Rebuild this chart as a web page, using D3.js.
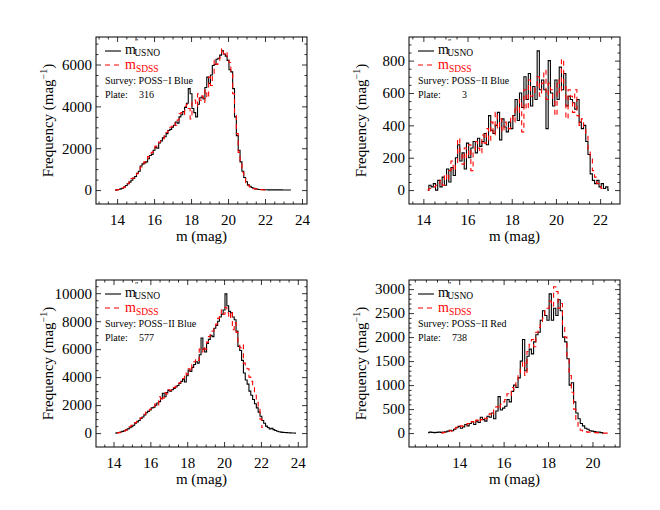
<!DOCTYPE html>
<html>
<head>
<meta charset="utf-8">
<script src="https://cdn.jsdelivr.net/npm/d3@7"></script>
<style>
  body { margin: 0; background: #fff; }
  svg, svg text, .axis { font-family: "Liberation Serif", "DejaVu Serif", serif; }
  .axis path { display: none; }
  .axis line { stroke: #000; stroke-width: 0.8; }
  .axis text { font-size: 15px; fill: #000; }
</style>
</head>
<body>
<svg id="svg" width="660" height="510"></svg>
<script>
// DATA //

// Histogram bin width (mag)
const binWidth = 0.1;

// Panel 1: POSS-I Blue, plate 316
const p1UsnoStart = 13.9;
const p1Usno = [0,10,30,60,90,150,220,300,380,470,
  560,650,800,900,1150,1250,1300,1350,1500,1650,
  1700,1900,2050,2000,2250,2350,2500,2550,2700,2850,
  2900,3000,3100,3250,3200,3500,3600,3750,3950,4150,
  4850,4600,3900,3700,3500,4100,4400,4450,4350,4900,
  5400,5100,5500,5950,6000,6250,6300,6450,6650,6500,
  6400,6200,5750,5650,4850,3500,2600,1900,1350,900,
  600,400,250,180,120,80,60,40,30,25,
  20,15,15,12,12,10,10,10,8,8,8,6,6,5,5,5];
const p1SdssStart = 13.9;
const p1Sdss = [0,10,25,50,100,140,230,300,420,550,
  580,700,780,950,1100,1200,1350,1450,1600,1750,
  1800,1950,2100,2200,2300,2400,2450,2600,2750,2900,
  3000,3050,3200,3100,3350,3650,3700,3600,4000,4100,
  3900,3400,4200,4300,4000,4600,4300,4500,4200,4800,
  4400,5400,5000,5500,6200,6000,6100,6350,6750,6500,
  6600,6300,6100,5600,4600,3700,2700,1800,1300,850,
  550,350,230,150,100,70,50,60,30,20,
  15,10,5];

// Panel 2: POSS-II Blue, plate 3
const p2UsnoStart = 14.2;
const p2Usno = [0,30,20,40,0,60,20,80,30,130,50,140,
  90,200,280,180,230,130,290,200,260,300,
  230,320,270,300,350,280,460,370,350,400,
  480,310,440,390,360,420,380,460,560,430,
  600,510,700,560,720,520,640,560,860,620,
  680,620,380,800,600,520,680,560,760,620,
  720,520,580,560,540,500,560,420,380,400,
  300,220,100,60,40,60,20,40,10,20,
  0];
const p2SdssStart = 14.2;
const p2Sdss = [0,10,10,20,30,40,60,30,100,60,120,180,
  120,160,320,220,160,260,200,280,120,240,
  300,260,230,340,290,380,300,420,340,480,
  380,440,360,420,400,380,460,420,520,480,
  560,360,620,500,680,580,600,640,700,580,
  660,740,560,660,620,560,460,680,600,810,
  640,440,620,580,480,620,460,400,440,380,
  340,240,200,120,80,40,20,10];

// Panel 3: POSS-II Blue, plate 577
const p3UsnoStart = 14.1;
const p3Usno = [0,20,40,80,120,170,230,300,380,450,
  560,700,800,900,1050,1150,1300,1450,1550,1650,
  1800,1850,2000,2150,2250,2450,2850,2600,2900,3050,
  3000,3100,3200,3300,3400,3550,3700,3850,3650,4100,
  4500,4400,4700,4900,5100,5000,5600,6800,6000,5800,
  6400,6700,7000,6900,7500,7700,8000,8300,8500,8800,
  9950,9100,8700,8600,8300,8100,7300,6200,5900,5200,
  4300,3800,3500,3000,2700,2400,2100,1800,1500,1200,
  900,700,500,400,300,350,250,180,130,100,
  70,50,40,30,20,15,10,5,0];
const p3SdssStart = 14.2;
const p3Sdss = [0,30,60,100,150,220,350,450,550,700,
  750,850,950,1100,1250,1350,1500,1600,1700,1800,
  1900,2100,2000,2600,2300,2500,2900,2800,3100,3050,
  3150,3250,3350,3450,3600,3750,3900,4300,4200,4600,
  4400,4900,5100,5300,5200,6000,5800,6200,6000,6500,
  6900,7100,7300,7600,7800,8200,8500,8800,8500,9000,
  8600,8200,8700,7400,7900,7200,6500,6100,6300,5000,
  4800,4600,4000,3700,3300,2700,2200,1700,1000,400];

// Panel 4: POSS-II Red, plate 738
const p4UsnoStart = 12.6;
const p4Usno = [10,20,15,10,15,20,15,20,25,40,
  60,50,80,110,140,100,130,180,150,200,
  230,180,250,220,330,280,250,350,330,420,
  300,460,760,480,520,560,700,650,870,1000,
  950,1150,1500,1950,1300,1600,1750,1650,1900,2050,
  2100,2350,2550,2450,2350,2900,2350,2600,2450,2780,
  2550,2000,1900,1550,1000,1050,650,420,300,200,
  150,100,80,50,40,30,20,20,10,0];
const p4SdssStart = 13.2;
const p4Sdss = [0,10,20,30,50,40,90,120,110,150,
  140,160,200,180,240,200,270,230,280,330,
  300,370,400,360,480,550,500,600,650,700,
  820,780,950,900,1050,1200,1350,1500,1200,1700,
  1850,1950,1800,2100,2200,2300,2400,2550,2600,2750,
  2650,3050,2950,2600,2700,2200,2000,1600,1200,850,
  500,250,120,60,40,30,20,20,15,10,
  10,5,5,0,0,0,0];

// Labels
const surveys = ["POSS\u2212I Blue", "POSS\u2212II Blue", "POSS\u2212II Blue", "POSS\u2212II Red"];
const plates = ["316", "3", "577", "738"];

// Axis ticks
const xTicks = [[14,16,18,20,22,24],[14,16,18,20,22],[14,16,18,20,22,24],[14,16,18,20]];
const yTicks = [[0,2000,4000,6000],[0,200,400,600,800],[0,2000,4000,6000,8000,10000],[0,500,1000,1500,2000,2500,3000]];
const yMinorStep = [500, 50, 500, 100];

// LAYOUT //
const svg = d3.select("#svg");
const panelW = 211, panelH = 167;
const panelPos = [[96,37],[409,37],[96,280],[409,280]];
const xDomains = [[12.86,24.27],[13.35,22.9],[13.05,24.5],[11.74,21.24]];

const panels = [
  {usno: p1Usno, usnoStart: p1UsnoStart, sdss: p1Sdss, sdssStart: p1SdssStart},
  {usno: p2Usno, usnoStart: p2UsnoStart, sdss: p2Sdss, sdssStart: p2SdssStart},
  {usno: p3Usno, usnoStart: p3UsnoStart, sdss: p3Sdss, sdssStart: p3SdssStart},
  {usno: p4Usno, usnoStart: p4UsnoStart, sdss: p4Sdss, sdssStart: p4SdssStart}
];

const serif = "'Liberation Serif', 'DejaVu Serif', serif";

// Turn a value list into [mag, freq] points (bin centres)
let toPoints = (vals, start) => vals.map((v, i) => [start + i * binWidth, v]);

panels.forEach((p, k) => {
  const [left, top] = panelPos[k];
  const g = svg.append("g").attr("transform", `translate(${left},${top})`);

  const yMax = d3.max(p.usno);
  const x = d3.scaleLinear().domain(xDomains[k]).range([0, panelW]);
  const y = d3.scaleLinear().domain([-0.1 * yMax, 1.1 * yMax]).range([panelH, 0]);

  const xMinor = d3.range(Math.ceil(xDomains[k][0] * 2) / 2, xDomains[k][1], 0.5)
    .filter(v => !xTicks[k].includes(v));
  const yMinor = d3.range(0, 1.1 * yMax, yMinorStep[k])
    .filter(v => !yTicks[k].includes(v));

  // Axes: ticks point inward on all four sides
  const axes = [
    [d3.axisBottom(x).tickValues(xTicks[k]).tickSize(-5).tickPadding(10).tickFormat(d3.format("d")), 0, panelH],
    [d3.axisBottom(x).tickValues(xMinor).tickSize(-2.5).tickFormat(""), 0, panelH],
    [d3.axisTop(x).tickValues(xTicks[k]).tickSize(-5).tickFormat(""), 0, 0],
    [d3.axisTop(x).tickValues(xMinor).tickSize(-2.5).tickFormat(""), 0, 0],
    [d3.axisLeft(y).tickValues(yTicks[k]).tickSize(-5).tickPadding(4).tickFormat(d3.format("d")), 0, 0],
    [d3.axisLeft(y).tickValues(yMinor).tickSize(-2.5).tickFormat(""), 0, 0],
    [d3.axisRight(y).tickValues(yTicks[k]).tickSize(-5).tickFormat(""), panelW, 0],
    [d3.axisRight(y).tickValues(yMinor).tickSize(-2.5).tickFormat(""), panelW, 0]
  ];
  axes.forEach(([ax, tx, ty]) => {
    g.append("g").attr("class", "axis")
      .attr("transform", `translate(${tx},${ty})`)
      .call(ax)
      .attr("font-family", serif)
      .attr("font-size", 15);
  });

  // Frame
  g.append("rect")
    .attr("width", panelW).attr("height", panelH)
    .attr("fill", "none").attr("stroke", "#000").attr("stroke-width", 1);

  // Histogram step lines
  const line = d3.line().x(d => x(d[0])).y(d => y(d[1])).curve(d3.curveStep);
  g.append("path")
    .attr("d", line(toPoints(p.usno, p.usnoStart)))
    .attr("fill", "none").attr("stroke", "#000").attr("stroke-width", 1.1);
  g.append("path")
    .attr("d", line(toPoints(p.sdss, p.sdssStart)))
    .attr("fill", "none").attr("stroke", "#ff0000").attr("stroke-width", 1.1)
    .attr("stroke-dasharray", "5,4");

  // Axis titles
  g.append("text")
    .attr("x", panelW / 2).attr("y", panelH + 37)
    .attr("text-anchor", "middle").style("font-size", "15px")
    .text("m (mag)");

  const yl = g.append("text")
    .attr("transform", `translate(-43,${panelH / 2}) rotate(-90)`)
    .attr("text-anchor", "middle").style("font-size", "15px");
  yl.append("tspan").text("Frequency (mag");
  yl.append("tspan").attr("dy", -6).style("font-size", "10px").text("\u22121");
  yl.append("tspan").attr("dy", 6).text(")");

  // Legend
  const legend = g.append("g").attr("class", "legend");
  legend.append("line")
    .attr("x1", 9).attr("x2", 25).attr("y1", 14).attr("y2", 14)
    .attr("stroke", "#000").attr("stroke-width", 1.1);
  const t1 = legend.append("text").attr("x", 29).attr("y", 17).style("font-size", "14px");
  t1.append("tspan").text("m");
  t1.append("tspan").attr("dy", -9).attr("dx", -1).style("font-size", "8px").text("\u2033");
  t1.append("tspan").attr("dy", 11).attr("dx", -4).style("font-size", "9.5px").text("USNO");

  legend.append("line")
    .attr("x1", 9).attr("x2", 25).attr("y1", 28).attr("y2", 28)
    .attr("stroke", "#ff0000").attr("stroke-width", 1.1).attr("stroke-dasharray", "5,4");
  const t2 = legend.append("text").attr("x", 29).attr("y", 32)
    .style("font-size", "14px").attr("fill", "#ff0000");
  t2.append("tspan").text("m");
  t2.append("tspan").attr("dy", 3).style("font-size", "9.5px").text("SDSS");

  legend.append("text").attr("x", 9).attr("y", 47).style("font-size", "10px")
    .text("Survey: " + surveys[k]);
  legend.append("text").attr("x", 9).attr("y", 61).style("font-size", "10px")
    .text("Plate:");
  legend.append("text").attr("x", 58).attr("y", 61).attr("text-anchor", "end")
    .style("font-size", "10px").text(plates[k]);
});
</script>
</body>
</html>
